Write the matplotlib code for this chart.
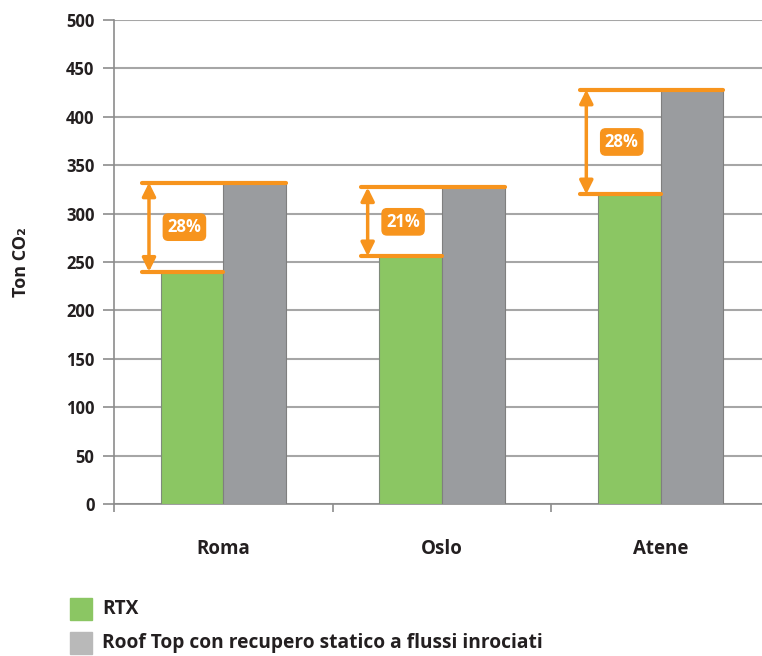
import matplotlib
matplotlib.use("Agg")
import matplotlib.pyplot as plt
import numpy as np

# data
cities = ["Roma", "Oslo", "Atene"]
rtx = [240, 256, 320]
rooftop = [332, 327, 428]
savings = ["28%", "21%", "28%"]
series = ["RTX", "Roof Top con recupero statico a flussi inrociati"]

green = "#8BC663"
grey = "#9A9C9F"
grey_leg = "#B9B9B9"
orange = "#F7941D"
txt = "#231F20"

plt.rcParams["font.family"] = ["Open Sans", "DejaVu Sans"]
plt.rcParams["font.weight"] = "bold"

W, H = 762, 656
fig = plt.figure(figsize=(W / 100, H / 100), dpi=100)
ax = fig.add_axes([114 / W, (H - 504) / H, 656 / W, 484 / H])

x = np.arange(len(cities))
bw = 0.286
ax.bar(x - bw / 2, rtx, bw, color=green, edgecolor="#7E8A7A", linewidth=0.8, zorder=3)
ax.bar(x + bw / 2, rooftop, bw, color=grey, edgecolor="#7F7F7F", linewidth=0.8, zorder=3)

ax.set_xlim(-0.5, 2.5)
ax.set_ylim(0, 500)
ax.set_yticks(np.arange(0, 501, 50))
ax.yaxis.grid(True, color="#A6A6A6", linewidth=1.5, zorder=0)
ax.set_axisbelow(True)

for s in ["top", "right"]:
    ax.spines[s].set_visible(False)
for s in ["left", "bottom"]:
    ax.spines[s].set_color("#8C8C8C")
    ax.spines[s].set_linewidth(1.2)

ax.set_xticks([-0.5, 0.5, 1.5, 2.5])
ax.set_xticklabels([])
ax.set_xticks(x, minor=True)
ax.set_xticklabels(cities, minor=True)
ax.tick_params(axis="x", which="major", length=6, color="#8C8C8C", width=1.2)
ax.tick_params(axis="x", which="minor", length=0, pad=25, labelsize=13.5, labelcolor=txt)
ax.tick_params(axis="y", length=8, color="#8C8C8C", width=1.2, labelsize=12,
               labelcolor=txt, pad=6)
for lab in ax.get_xticklabels(minor=True) + ax.get_yticklabels():
    lab.set_fontweight("bold")

ax.set_ylabel("Ton CO\u2082", fontsize=13, fontweight="bold", color=txt, labelpad=26)

# savings annotations
for i in range(len(cities)):
    lo, hi = rtx[i], rooftop[i]
    xa = i - 0.34
    ax.plot([i - 0.37, i], [lo, lo], color=orange, lw=3, solid_capstyle="round", zorder=5)
    ax.plot([i - 0.37, i + bw], [hi, hi], color=orange, lw=3, solid_capstyle="round", zorder=5)
    ax.annotate("", xy=(xa, hi), xytext=(xa, lo),
                arrowprops=dict(arrowstyle="<|-|>,head_length=0.8,head_width=0.4",
                                color=orange, lw=2.5, shrinkA=0, shrinkB=0), zorder=5)
    ax.text(i - 0.178, (lo + hi) / 2, savings[i], ha="center", va="center",
            fontsize=12, fontweight="bold", color="white", zorder=6,
            bbox=dict(boxstyle="round,pad=0.25,rounding_size=0.3", fc=orange, ec=orange))

# legend
for j, (name, col) in enumerate(zip(series, [green, grey_leg])):
    y0 = 598 + j * 34
    fig.patches.append(plt.Rectangle((70 / W, 1 - (y0 + 22) / H), 22 / W, 22 / H,
                                     transform=fig.transFigure, color=col, figure=fig))
    fig.text(102 / W, 1 - (y0 + 11) / H, name, ha="left", va="center",
             fontsize=13.8, fontweight="bold", color=txt)

fig.savefig("out.png", dpi=100)
